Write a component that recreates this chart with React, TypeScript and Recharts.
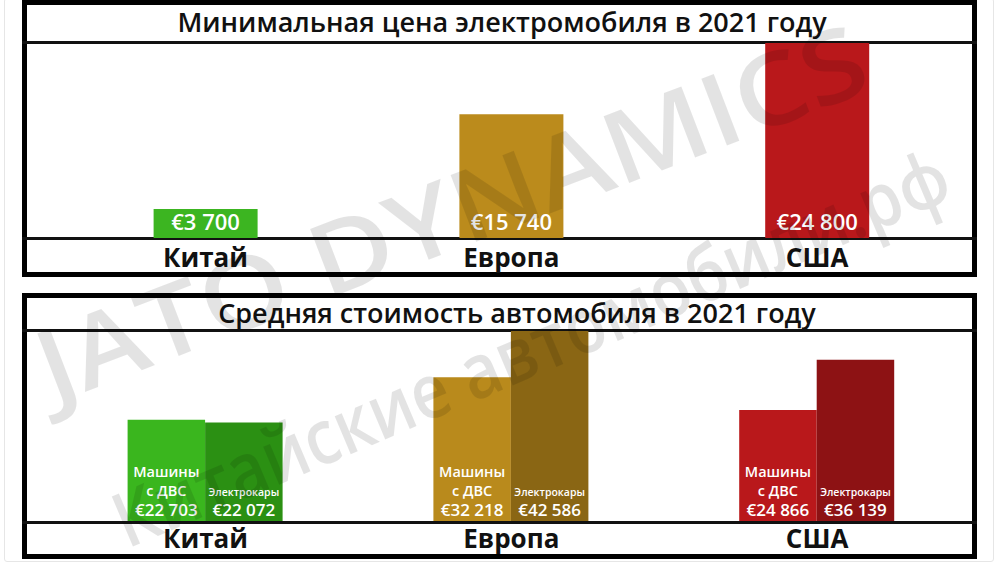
import React from 'react';
import { BarChart, Bar, XAxis, YAxis, Cell, LabelList } from 'recharts';

const categories = ['Китай', 'Европа', 'США'];
const minEvPrice = [3700, 15740, 24800];
const iceAvg = [22703, 32218, 24866];
const evAvg = [22072, 42586, 36139];
const topColors = ['#3cb521', '#bb8b1c', '#b9181b'];
const iceColors = ['#3ab61e', '#b98a1c', '#b9181b'];
const evColors = ['#2b9013', '#8a6614', '#8d1214'];
const topTitle = 'Минимальная цена электромобиля в 2021 году';
const bottomTitle = 'Средняя стоимость автомобиля в 2021 году';
const iceLabelLines = ['Машины', 'с ДВС'];
const evLabelText = 'Электрокары';
const watermarks = ['JATO DYNAMICS', 'Китайские автомобили.рф'];

const FONT = '"Open Sans", "DejaVu Sans", sans-serif';

const fmt = (n: number) => '€' + String(n).replace(/\B(?=(\d{3})+(?!\d))/g, ' ');

const topData = categories.map((name, i) => ({ name, value: minEvPrice[i] }));
const bottomData = categories.map((name, i) => ({ name, ice: iceAvg[i], ev: evAvg[i] }));

const CategoryTick = (props: any) => {
  const { x, y, payload, dyBase } = props;
  return (
    <text x={x} y={y} dy={dyBase} textAnchor="middle" fontSize={26} fontWeight={700} fill="#111" fontFamily={FONT}>
      {payload.value}
    </text>
  );
};

const TopLabel = (props: any) => {
  const { x, y, width, height, value } = props;
  return (
    <text x={x + width / 2} y={y + height - 8} textAnchor="middle" fill="#fff" fontSize={22} fontWeight={600} fontFamily={FONT}>
      {fmt(value)}
    </text>
  );
};

const IceLabel = (props: any) => {
  const { x, y, width, height, value } = props;
  const cx = x + width / 2;
  const b = y + height;
  return (
    <g fill="#fff" fontFamily={FONT} fontWeight={600} textAnchor="middle">
      <text x={cx} y={b - 44} fontSize={14.5}>{iceLabelLines[0]}</text>
      <text x={cx} y={b - 25} fontSize={14.5}>{iceLabelLines[1]}</text>
      <text x={cx} y={b - 5} fontSize={17}>{fmt(value)}</text>
    </g>
  );
};

const EvLabel = (props: any) => {
  const { x, y, width, height, value } = props;
  const cx = x + width / 2;
  const b = y + height;
  return (
    <g fill="#fff" fontFamily={FONT} fontWeight={600} textAnchor="middle">
      <text x={cx} y={b - 25} fontSize={10.5}>{evLabelText}</text>
      <text x={cx} y={b - 5} fontSize={17}>{fmt(value)}</text>
    </g>
  );
};

const panelStyle = (top: number, height: number): React.CSSProperties => ({
  position: 'absolute',
  left: 22,
  top,
  width: 955,
  height,
  border: '5px solid #000',
  boxSizing: 'border-box',
});

const lineStyle = (top: number): React.CSSProperties => ({
  position: 'absolute',
  left: 22,
  top,
  width: 955,
  height: 3,
  background: '#111',
});

const titleStyle = (top: number, left: number): React.CSSProperties => ({
  position: 'absolute',
  left,
  top,
  width: 940,
  textAlign: 'center',
  fontFamily: FONT,
  fontSize: 27,
  fontWeight: 600,
  color: '#111',
  lineHeight: '36px',
  whiteSpace: 'nowrap',
});

export default function App() {
  return (
    <div style={{ position: 'absolute', left: 0, top: 0, width: 1000, height: 564, background: '#fff', overflow: 'hidden' }}>
      <div style={{ position: 'absolute', left: 4, top: -2, width: 990, height: 564, border: '1px solid #e6e6e6', boxSizing: 'border-box', borderRadius: 3 }} />
      {/* top panel */}
      <div style={panelStyle(0, 277)} />
      <div style={lineStyle(40.5)} />
      <div style={lineStyle(237)} />
      <div style={titleStyle(4, 32)}>{topTitle}</div>
      <div style={{ position: 'absolute', left: 0, top: 0 }}>
        <BarChart width={1000} height={277} data={topData} margin={{ top: 43, bottom: 0, left: 52.6, right: 30 }}>
          <YAxis hide domain={[0, 24800]} />
          <XAxis dataKey="name" height={39} axisLine={false} tickLine={false} tickSize={0} tickMargin={0} interval={0}
            tick={<CategoryTick dyBase={29} />} />
          <Bar dataKey="value" barSize={104} isAnimationActive={false}>
            {topData.map((d, i) => <Cell key={d.name} fill={topColors[i]} />)}
            <LabelList dataKey="value" content={<TopLabel />} />
          </Bar>
        </BarChart>
      </div>
      {/* bottom panel */}
      <div style={panelStyle(293, 266)} />
      <div style={lineStyle(329)} />
      <div style={lineStyle(520.5)} />
      <div style={titleStyle(295, 47)}>{bottomTitle}</div>
      <div style={{ position: 'absolute', left: 0, top: 0 }}>
        <BarChart width={1000} height={557} data={bottomData} margin={{ top: 331, bottom: 0, left: 52.6, right: 30 }} barGap={0}>
          <YAxis hide domain={[0, 42586]} />
          <XAxis dataKey="name" height={36} axisLine={false} tickLine={false} tickSize={0} tickMargin={0} interval={0}
            tick={<CategoryTick dyBase={27} />} />
          <Bar dataKey="ice" barSize={77.5} isAnimationActive={false}>
            {bottomData.map((d, i) => <Cell key={d.name} fill={iceColors[i]} />)}
            <LabelList dataKey="ice" content={<IceLabel />} />
          </Bar>
          <Bar dataKey="ev" barSize={77.5} isAnimationActive={false}>
            {bottomData.map((d, i) => <Cell key={d.name} fill={evColors[i]} />)}
            <LabelList dataKey="ev" content={<EvLabel />} />
          </Bar>
        </BarChart>
      </div>
      {/* watermark */}
      <svg width={1000} height={564} style={{ position: 'absolute', left: 0, top: 0, pointerEvents: 'none' }}>
        <g fill="#000" fillOpacity={0.11} fontFamily={FONT} fontWeight={600}>
          <text x={450} y={210} textAnchor="middle" dominantBaseline="central" fontSize={100} transform="rotate(-21 450 210)" textLength={880} lengthAdjust="spacingAndGlyphs">
            {watermarks[0]}
          </text>
          <text x={530} y={346} textAnchor="middle" dominantBaseline="central" fontSize={76} transform="rotate(-23 530 346)" textLength={900} lengthAdjust="spacingAndGlyphs">
            {watermarks[1]}
          </text>
        </g>
      </svg>
    </div>
  );
}
